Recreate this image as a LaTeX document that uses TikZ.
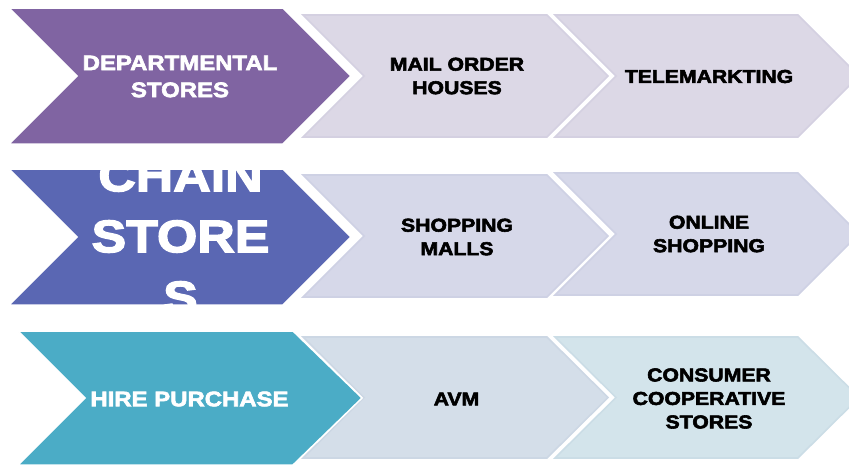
\documentclass[tikz,border=0pt]{standalone}
\usepackage{fontspec}
\newfontfamily\chevfont[FakeStretch=1.14,FakeBold=3]{Liberation Sans Bold}
\definecolor{cpurple}{HTML}{8064A2}
\definecolor{cblue}{HTML}{5A67B3}
\definecolor{cteal}{HTML}{4BACC6}
\definecolor{lightA}{HTML}{DCD8E6}
\definecolor{lightAb}{HTML}{D4D0E1}
\definecolor{lightB}{HTML}{D6D8E9}
\definecolor{lightBb}{HTML}{CED1E4}
\definecolor{lightC}{HTML}{D4DEE9}
\definecolor{lightCb}{HTML}{CCD7E4}
\definecolor{lightD}{HTML}{D3E4EB}
\definecolor{lightDb}{HTML}{CBDDE6}
% #1 style, #2 left x, #3 top y, #4 bottom y, #5 top-right x, #6 tip x, #7 notch x, #8 mid y
\newcommand\chevpath[8]{%
  \path[#1] (#2,#3) -- (#5,#3) -- (#6,#8) -- (#5,#4) -- (#2,#4) -- (#7,#8) -- cycle;}
\tikzset{
  bigchev/.style={fill=#1, draw=white, line width=1.5pt, line join=miter},
  smallchev/.style={fill=#1, draw=#1b, line width=1.6pt, line join=miter},
  bigtext/.style={text=white, align=center, inner sep=0pt,
    font={\chevfont\fontsize{21}{27}\selectfont}},
  hugetext/.style={text=white, align=center, inner sep=0pt,
    font={\chevfont\fontsize{45.5}{61}\selectfont}},
  smalltext/.style={text=black, align=center, inner sep=0pt,
    font={\chevfont\fontsize{18.6}{23.5}\selectfont}},
}
\begin{document}
\begin{tikzpicture}[x=1pt,y=-1pt]
\useasboundingbox (0,0) rectangle (849,464);
\clip (0,0) rectangle (849,464);
% row 1
\chevpath{smallchev=lightA}{555}{15}{137}{798}{859}{616}{76}
\chevpath{smallchev=lightA}{303}{15}{137}{547}{608}{364}{76}
\chevpath{bigchev=cpurple}{9}{8}{144}{283}{351}{77}{76}
% row 2
\chevpath{smallchev=lightB}{555}{173}{295}{798}{859}{616}{234}
\chevpath{smallchev=lightB}{303}{175}{297}{547}{608}{364}{236}
\chevpath{bigchev=cblue}{9}{169}{305}{283}{351}{77}{237}
% row 3
\chevpath{smallchev=lightD}{555}{337}{458}{798}{859}{616}{397.5}
\chevpath{smallchev=lightC}{303}{337}{458}{547}{608}{364}{397.5}
\chevpath{bigchev=cteal}{18}{331}{465}{293}{362}{85}{398}
% texts
\node[bigtext] (dep) at (180,76.5) {DEPARTMENTAL\\STORES};
\node[smalltext] (mail) at (457,76) {MAIL ORDER\\HOUSES};
\node[smalltext] (tele) at (709,76.5) {TELEMARKTING};
\node[hugetext] (chain) at (180.5,236.5) {CHAIN\\STORE\\S};
\node[smalltext] (mall) at (457,237) {SHOPPING\\MALLS};
\node[smalltext] (online) at (709,234) {ONLINE\\SHOPPING};
\node[bigtext] (hire) at (189.5,399) {HIRE PURCHASE};
\node[smalltext] (avm) at (456.5,399) {AVM};
\node[smalltext] (cons) at (709,398.5) {CONSUMER\\COOPERATIVE\\STORES};
\end{tikzpicture}
\end{document}
